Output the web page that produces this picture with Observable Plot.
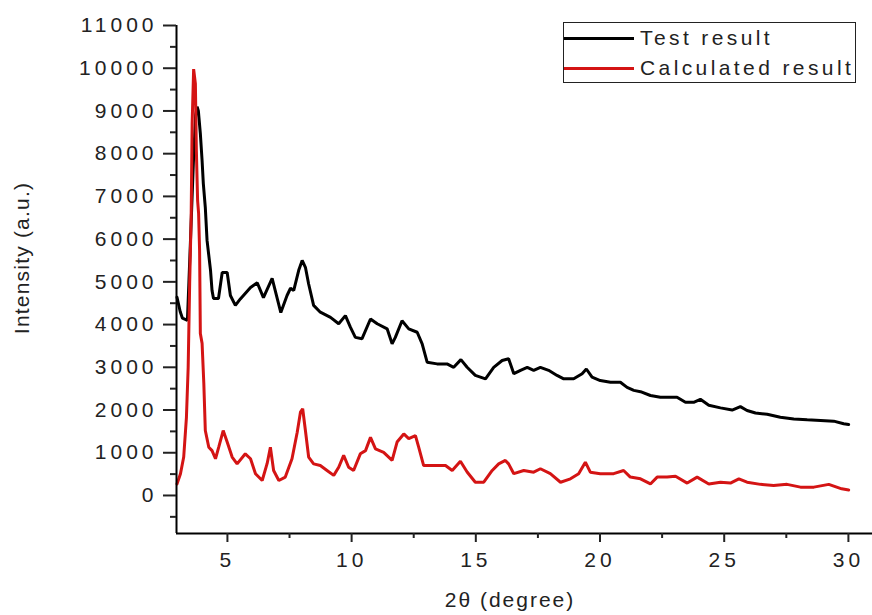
<!DOCTYPE html>
<html>
<head>
<meta charset="utf-8">
<script src="https://cdn.jsdelivr.net/npm/d3@7"></script>
<script src="https://cdn.jsdelivr.net/npm/@observablehq/plot@0.6"></script>
<style>
  body { margin: 0; background: #fff; }
  #wrap { position: relative; width: 872px; height: 615px; background: #fff; font-family: "Liberation Sans", Arial, sans-serif; }
  #wrap svg g[aria-label$="tick label"] text { letter-spacing: 4px; }
  .axis-title-x { letter-spacing: 2px; }
  .axis-title-y { letter-spacing: 1.2px; }
  #legend { position: absolute; left: 563px; top: 22px; width: 293px; height: 61px; border: 1.5px solid #222; box-sizing: border-box; background: #fff; }
  .lrow { position: absolute; left: 0; height: 30px; display: flex; align-items: center; font-size: 21px; letter-spacing: 3.4px; color: #222; white-space: nowrap; }
  .lline { display: inline-block; width: 70px; height: 3px; margin-right: 6px; }
</style>
</head>
<body>
<div id="wrap"></div>
<script>
// ---- data ----
const testTheta = [2.97,3.10,3.19,3.39,3.45,3.51,3.63,3.72,3.78,3.83,3.91,3.98,4.03,4.11,4.18,4.32,4.38,4.44,4.64,4.79,4.99,5.12,5.32,5.52,5.93,6.20,6.45,6.80,7.15,7.40,7.54,7.67,7.87,8.01,8.14,8.27,8.47,8.74,9.15,9.48,9.75,9.95,10.15,10.42,10.76,11.03,11.43,11.63,11.76,12.03,12.30,12.64,12.84,13.04,13.44,13.84,14.11,14.40,14.65,14.98,15.39,15.72,16.06,16.32,16.53,16.80,17.07,17.33,17.60,17.93,18.27,18.54,18.94,19.28,19.45,19.68,20.01,20.42,20.82,21.09,21.36,21.63,22.03,22.43,23.10,23.44,23.77,24.04,24.38,24.85,25.32,25.65,25.92,26.26,26.73,27.26,27.80,28.34,28.88,29.41,29.81,30.01];
const testIntensity = [4640,4300,4150,4100,5000,5920,7800,8900,9100,9000,8470,7840,7300,6740,5970,5270,4800,4610,4610,5220,5220,4680,4450,4600,4870,4980,4630,5080,4280,4680,4850,4800,5270,5500,5340,4950,4450,4290,4170,4020,4210,3940,3700,3670,4130,4020,3900,3550,3700,4090,3900,3820,3550,3120,3080,3080,3000,3180,3000,2810,2730,3000,3160,3200,2850,2930,3000,2930,3000,2930,2810,2730,2730,2850,2960,2770,2690,2650,2650,2530,2460,2430,2340,2300,2300,2180,2180,2250,2110,2050,2000,2080,1990,1930,1900,1830,1790,1770,1755,1740,1680,1660];

const calcTheta = [2.97,3.11,3.24,3.35,3.42,3.48,3.54,3.58,3.64,3.71,3.75,3.80,3.84,3.88,3.91,3.98,4.05,4.11,4.25,4.38,4.52,4.65,4.83,4.99,5.19,5.39,5.72,5.93,6.13,6.40,6.60,6.73,6.86,7.07,7.33,7.60,7.81,7.94,8.03,8.14,8.27,8.47,8.74,9.01,9.28,9.48,9.68,9.88,10.08,10.35,10.56,10.76,10.96,11.29,11.63,11.83,12.10,12.30,12.57,12.70,12.90,13.31,13.78,14.05,14.38,14.65,14.98,15.32,15.66,15.92,16.19,16.32,16.53,16.93,17.33,17.60,18.00,18.41,18.81,19.14,19.41,19.61,20.01,20.55,20.95,21.22,21.63,22.03,22.30,22.70,23.04,23.51,23.91,24.38,24.85,25.25,25.59,25.92,26.46,26.99,27.53,28.07,28.61,29.21,29.73,30.01];
const calcIntensity = [270,510,900,1830,3000,4960,6510,8700,9980,9640,8070,6900,6600,5730,3790,3560,2620,1520,1130,1050,860,1130,1520,1250,900,740,975,860,510,350,750,1130,585,350,430,860,1480,1950,2030,1520,900,740,700,585,470,660,940,660,585,975,1050,1360,1090,1010,820,1250,1440,1330,1400,1130,700,700,700,585,800,550,310,310,585,740,820,740,510,585,545,625,510,310,390,510,780,545,510,510,585,430,390,270,430,430,450,290,430,270,310,290,390,310,260,235,260,195,195,260,155,130];

const seriesNames = ["Test result", "Calculated result"];
const seriesColors = ["#000000", "#d41414"];

const xDomain = [2.95, 30.97];
const yDomain = [-890, 11000];
const xTicks = [5, 10, 15, 20, 25, 30];
const xMinorTicks = [7.5, 12.5, 17.5, 22.5, 27.5];
const yTicks = [0, 1000, 2000, 3000, 4000, 5000, 6000, 7000, 8000, 9000, 10000, 11000];
const yMinorTicks = [-500, 500, 1500, 2500, 3500, 4500, 5500, 6500, 7500, 8500, 9500, 10500];
const xTitle = "2\u03b8 (degree)";
const yTitle = "Intensity (a.u.)";

const testData = testTheta.map((t, i) => ({theta: t, intensity: testIntensity[i]}));
const calcData = calcTheta.map((t, i) => ({theta: t, intensity: calcIntensity[i]}));

const W = 872, H = 615, mL = 176, mR = 0, mT = 25, mB = 82;

const chart = Plot.plot({
  width: W, height: H,
  marginLeft: mL, marginRight: mR, marginTop: mT, marginBottom: mB,
  style: { fontFamily: "'Liberation Sans', Arial, sans-serif", fontSize: "21px", background: "#fff", overflow: "visible" },
  x: { domain: xDomain },
  y: { domain: yDomain },
  marks: [
    Plot.line(testData, { x: "theta", y: "intensity", stroke: seriesColors[0], strokeWidth: 3, strokeLinejoin: "miter" }),
    Plot.line(calcData, { x: "theta", y: "intensity", stroke: seriesColors[1], strokeWidth: 3, strokeLinejoin: "miter" }),
    Plot.ruleY([yDomain[0]], { stroke: "#000", strokeWidth: 2 }),
    Plot.ruleX([xDomain[0]], { y1: yDomain[0], y2: yDomain[1], stroke: "#000", strokeWidth: 2 }),
    Plot.axisX({ ticks: xTicks, tickSize: 9, tickPadding: 10, tickFormat: d3.format("d"), label: null, color: "#222", strokeWidth: 2 }),
    Plot.axisX({ ticks: xMinorTicks, tickSize: 5, text: null, label: null, color: "#222", strokeWidth: 2 }),
    Plot.axisY({ ticks: yTicks, tickSize: 13, tickPadding: 6, tickFormat: d3.format("d"), label: null, color: "#222", strokeWidth: 2 }),
    Plot.axisY({ ticks: yMinorTicks, tickSize: 6, text: null, label: null, color: "#222", strokeWidth: 2 })
  ]
});

const wrap = document.getElementById("wrap");
wrap.appendChild(chart);

// axis titles
const svg = d3.select(chart);
svg.append("text")
  .attr("class", "axis-title-x")
  .attr("x", 510).attr("y", 607)
  .attr("text-anchor", "middle")
  .attr("fill", "#222")
  .style("font-size", "21px")
  .text(xTitle);
svg.append("text")
  .attr("class", "axis-title-y")
  .attr("transform", "translate(29,258) rotate(-90)")
  .attr("text-anchor", "middle")
  .attr("fill", "#222")
  .style("font-size", "21px")
  .text(yTitle);

// legend
const legend = document.createElement("div");
legend.id = "legend";
seriesNames.forEach((name, i) => {
  const row = document.createElement("div");
  row.className = "lrow";
  row.style.top = (i * 30) + "px";
  const line = document.createElement("span");
  line.className = "lline";
  line.style.background = seriesColors[i];
  const txt = document.createElement("span");
  txt.textContent = name;
  row.appendChild(line);
  row.appendChild(txt);
  legend.appendChild(row);
});
wrap.appendChild(legend);
</script>
</body>
</html>
